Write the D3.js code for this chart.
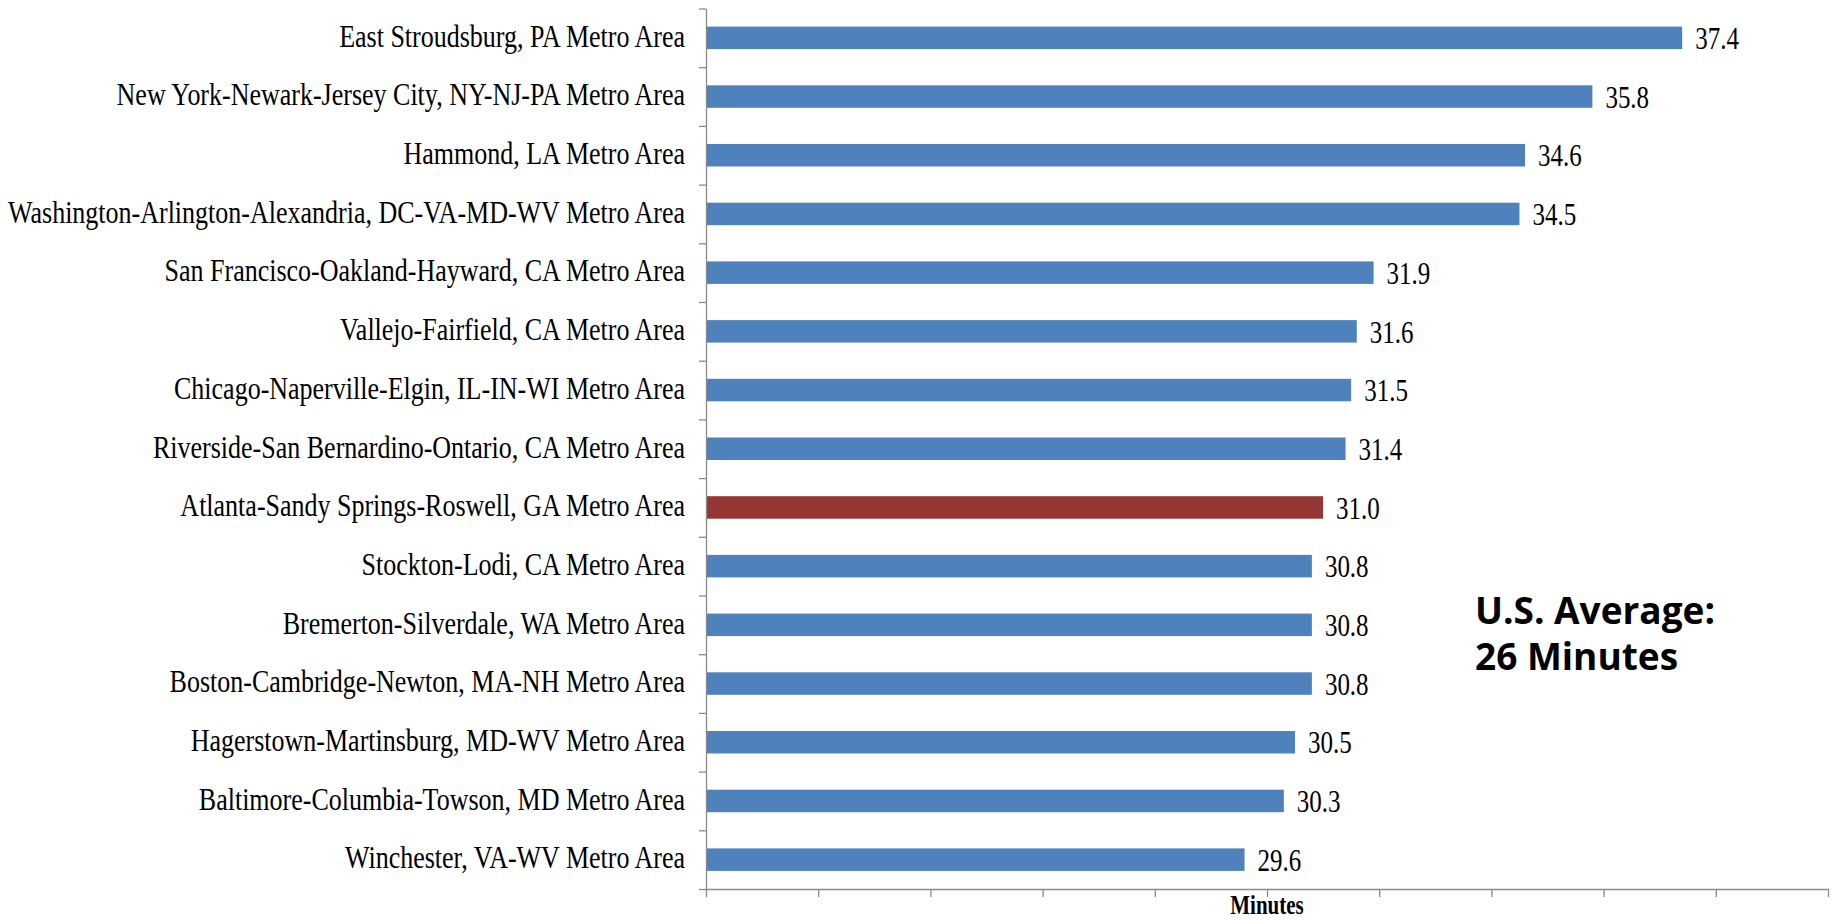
<!DOCTYPE html>
<html>
<head>
    <title>Mean travel time to work, top metro areas</title>
    <script src="https://d3js.org/d3.v7.min.js"></script>
    <style>
        body { margin: 0; background: #fff; }
    </style>
</head>
<body>
<script>
    var width = 1843, height = 920;

    // data
    var cities = [
        "East Stroudsburg, PA Metro Area",
        "New York-Newark-Jersey City, NY-NJ-PA Metro Area",
        "Hammond, LA Metro Area",
        "Washington-Arlington-Alexandria, DC-VA-MD-WV Metro Area",
        "San Francisco-Oakland-Hayward, CA Metro Area",
        "Vallejo-Fairfield, CA Metro Area",
        "Chicago-Naperville-Elgin, IL-IN-WI Metro Area",
        "Riverside-San Bernardino-Ontario, CA Metro Area",
        "Atlanta-Sandy Springs-Roswell, GA Metro Area",
        "Stockton-Lodi, CA Metro Area",
        "Bremerton-Silverdale, WA Metro Area",
        "Boston-Cambridge-Newton, MA-NH Metro Area",
        "Hagerstown-Martinsburg, MD-WV Metro Area",
        "Baltimore-Columbia-Towson, MD Metro Area",
        "Winchester, VA-WV Metro Area"
    ];
    var minutes = [37.4, 35.8, 34.6, 34.5, 31.9, 31.6, 31.5, 31.4, 31.0, 30.8, 30.8, 30.8, 30.5, 30.3, 29.6];
    var highlight = "Atlanta-Sandy Springs-Roswell, GA Metro Area";
    var xTicks = [20, 22, 24, 26, 28, 30, 32, 34, 36, 38, 40];
    var note = ["U.S. Average:", "26 Minutes"];

    var svg = d3.select("body").append("svg")
        .attr("width", width)
        .attr("height", height);

    var x = d3.scaleLinear().domain([20, 40]).range([706, 1828]);
    var y = d3.scaleBand().domain(cities).range([8.5, 889]);
    // band edges, for the y axis ticks
    var yEdge = d3.scaleLinear().domain([0, cities.length]).range([8.5, 889]);

    var barH = 22.5;
    var axisColor = "#8a8a8a";

    svg.selectAll("rect.bar")
        .data(cities)
        .join("rect")
        .attr("class", "bar")
        .attr("x", x(20))
        .attr("y", function(d) { return y(d) + y.bandwidth() / 2 - barH / 2; })
        .attr("width", function(d, i) { return x(minutes[i]) - x(20); })
        .attr("height", barH)
        .attr("fill", function(d) { return d === highlight ? "#953735" : "#4f81bd"; });

    // x axis, ticks only
    svg.append("g")
        .attr("transform", "translate(0," + yEdge(cities.length) + ")")
        .call(d3.axisBottom(x).tickValues(xTicks).tickFormat("").tickSize(8).tickSizeOuter(0));

    // y axis, ticks between the categories
    svg.append("g")
        .attr("transform", "translate(" + x(20) + ",0)")
        .call(d3.axisLeft(yEdge).ticks(cities.length).tickFormat("").tickSize(7).tickSizeOuter(0));

    svg.selectAll(".domain, .tick line")
        .attr("stroke", axisColor)
        .attr("stroke-width", 1.3);

    // category labels (the source font is a bit condensed, so stretch it vertically)
    svg.selectAll("text.cat")
        .data(cities)
        .join("text")
        .attr("class", "cat")
        .attr("transform", function(d) {
            return "translate(685," + (y(d) + y.bandwidth() / 2) + ") scale(1,1.25)";
        })
        .attr("y", 7)
        .attr("text-anchor", "end")
        .attr("font-family", "'Liberation Serif', 'Times New Roman', serif")
        .attr("font-size", "26px")
        .attr("fill", "#000")
        .text(function(d) { return d; });

    svg.selectAll("text.val")
        .data(cities)
        .join("text")
        .attr("class", "val")
        .attr("transform", function(d, i) {
            return "translate(" + (x(minutes[i]) + 13) + "," + (y(d) + y.bandwidth() / 2) + ") scale(1,1.3)";
        })
        .attr("y", 8.6)
        .attr("font-family", "'Liberation Serif', 'Times New Roman', serif")
        .attr("font-size", "25px")
        .attr("fill", "#000")
        .text(function(d, i) { return minutes[i].toFixed(1); });

    svg.append("text")
        .attr("transform", "translate(" + x(30) + ",914) scale(1,1.3)")
        .attr("text-anchor", "middle")
        .attr("font-family", "'Liberation Serif', 'Times New Roman', serif")
        .attr("font-weight", "bold")
        .attr("font-size", "21px")
        .text("Minutes");

    svg.selectAll("text.note")
        .data(note)
        .join("text")
        .attr("class", "note")
        .attr("x", 1475)
        .attr("y", function(d, i) { return 624 + i * 46; })
        .attr("font-family", "'Open Sans', sans-serif")
        .attr("font-weight", "bold")
        .attr("font-size", "37px")
        .attr("fill", "#000")
        .text(function(d) { return d; });
</script>
</body>
</html>
